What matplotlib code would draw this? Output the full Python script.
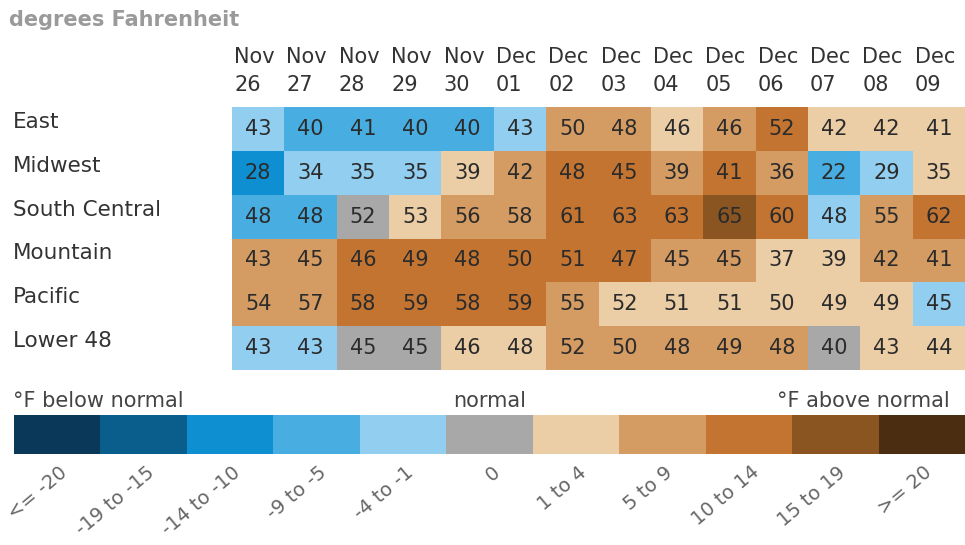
import numpy as np
import matplotlib.pyplot as plt
import matplotlib.colors as mcolors
from matplotlib.transforms import blended_transform_factory

regions = ["East", "Midwest", "South Central", "Mountain", "Pacific", "Lower 48"]
months = ["Nov", "Nov", "Nov", "Nov", "Nov", "Dec", "Dec", "Dec", "Dec", "Dec", "Dec", "Dec", "Dec", "Dec"]
days = ["26", "27", "28", "29", "30", "01", "02", "03", "04", "05", "06", "07", "08", "09"]

# forecast temperatures (deg F)
temps = [
    [43, 40, 41, 40, 40, 43, 50, 48, 46, 46, 52, 42, 42, 41],
    [28, 34, 35, 35, 39, 42, 48, 45, 39, 41, 36, 22, 29, 35],
    [48, 48, 52, 53, 56, 58, 61, 63, 63, 65, 60, 48, 55, 62],
    [43, 45, 46, 49, 48, 50, 51, 47, 45, 45, 37, 39, 42, 41],
    [54, 57, 58, 59, 58, 59, 55, 52, 51, 51, 50, 49, 49, 45],
    [43, 43, 45, 45, 46, 48, 52, 50, 48, 49, 48, 40, 43, 44],
]

# departure from normal, as legend class index (0 = "<= -20" ... 10 = ">= 20")
dep_class = [
    [4, 3, 3, 3, 3, 4, 7, 7, 6, 7, 8, 6, 6, 6],
    [2, 4, 4, 4, 6, 7, 8, 8, 7, 8, 7, 3, 4, 6],
    [3, 3, 5, 6, 7, 7, 8, 8, 8, 9, 8, 4, 7, 8],
    [7, 7, 8, 8, 8, 8, 8, 8, 7, 7, 6, 6, 7, 7],
    [7, 7, 8, 8, 8, 8, 7, 6, 6, 6, 6, 6, 6, 4],
    [4, 4, 5, 5, 6, 6, 7, 7, 7, 7, 7, 5, 6, 6],
]

legend_labels = ["<= -20", "-19 to -15", "-14 to -10", "-9 to -5", "-4 to -1", "0",
                 "1 to 4", "5 to 9", "10 to 14", "15 to 19", ">= 20"]
legend_colors = ["#0a3858", "#0a5e8c", "#0d8fd2", "#48ade0", "#91cef0", "#a8a8a8",
                 "#ebcda6", "#d49b62", "#c47431", "#8a5521", "#4b2e12"]

cmap = mcolors.ListedColormap(legend_colors)
norm = mcolors.BoundaryNorm(np.arange(-0.5, 11.5, 1), cmap.N)

W, H = 965, 545
fig = plt.figure(figsize=(W / 100, H / 100), dpi=100)
fig.patch.set_facecolor("white")

def fx(px):
    return px / W

def fy(py):
    return 1 - py / H

# heatmap
ax = fig.add_axes([fx(232), fy(370), fx(965) - fx(232), fy(107) - fy(370)])
ax.pcolormesh(np.array(dep_class), cmap=cmap, norm=norm)
ax.set_xlim(0, len(days))
ax.set_ylim(len(regions), 0)
ax.axis("off")

for i, row in enumerate(temps):
    for j, t in enumerate(row):
        ax.text(j + 0.5, i + 0.5, str(t), ha="center", va="center",
                fontsize=15, color="#2b2b2b")

for j, (m, d) in enumerate(zip(months, days)):
    ax.text(j + 0.04, -1.14, m, ha="left", va="center", fontsize=15,
            color="#333333", clip_on=False)
    ax.text(j + 0.04, -0.5, d, ha="left", va="center", fontsize=15,
            color="#333333", clip_on=False)

trans = blended_transform_factory(fig.transFigure, ax.transData)
for i, r in enumerate(regions):
    ax.text(fx(13), i + 0.34, r, transform=trans, ha="left", va="center",
            fontsize=15.5, color="#333333")

fig.text(fx(9), fy(20), "degrees Fahrenheit", ha="left", va="center",
         fontsize=15, fontweight="bold", color="#9a9a9a")

# legend bar
cax = fig.add_axes([fx(14), fy(454), fx(965) - fx(14), fy(415) - fy(454)])
cax.pcolormesh(np.arange(len(legend_labels))[None, :], cmap=cmap, norm=norm)
cax.set_xlim(0, len(legend_labels))
cax.set_ylim(0, 1)
cax.axis("off")

for k, lab in enumerate(legend_labels):
    cax.text(k + 0.52, -0.22, lab, rotation=40, rotation_mode="anchor",
             ha="right", va="top", fontsize=14, color="#666666", clip_on=False)

fig.text(fx(13), fy(401), "°F below normal", ha="left", va="center",
         fontsize=15, color="#444444")
fig.text(fx(490), fy(401), "normal", ha="center", va="center",
         fontsize=15, color="#444444")
fig.text(fx(777), fy(401), "°F above normal", ha="left", va="center",
         fontsize=15, color="#444444")

fig.savefig("out.png", dpi=100, facecolor="white")
